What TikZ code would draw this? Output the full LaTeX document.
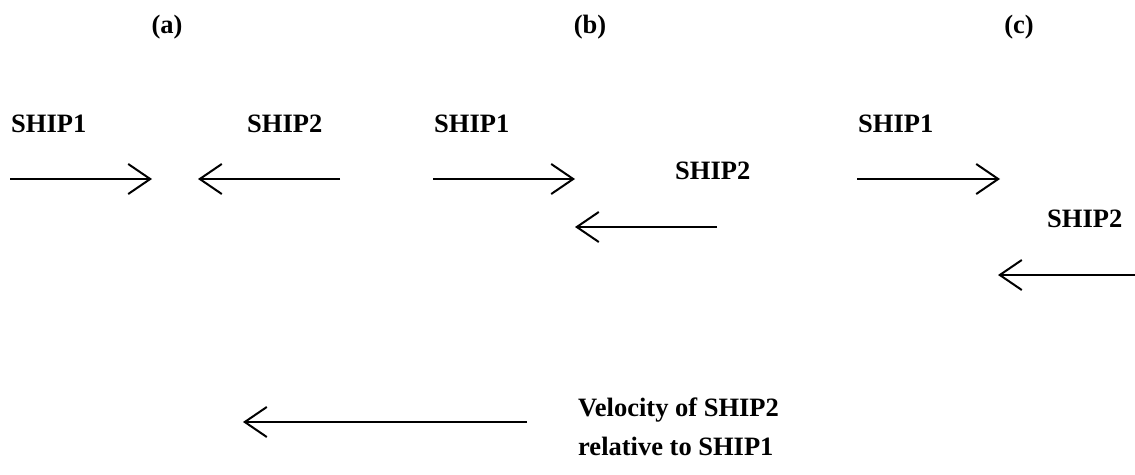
\documentclass[tikz,border=0pt]{standalone}
\usepackage{fontspec}
\setmainfont{Liberation Serif}
\usetikzlibrary{arrows.meta}

\begin{document}
\begin{tikzpicture}[x=1pt,y=-1pt,
    lbl/.style={inner sep=0pt,anchor=base west,font=\bfseries\fontsize{26.5}{30}\selectfont},
    vec/.style={line width=2pt,-{Straight Barb[length=22pt,width=30pt,line width=2pt]}}]
  \useasboundingbox (0,0) rectangle (1135,474);
  \begin{scope}
    \node[lbl,anchor=base] (capa) at (167,33) {(a)};
    \node[lbl] (shipaone) at (11,132) {SHIP1};
    \node[lbl] (shipatwo) at (247,132) {SHIP2};
    \coordinate (aones) at (10,179);
    \coordinate (aonee) at (152,179);
    \coordinate (atwos) at (340,179);
    \coordinate (atwoe) at (198,179);
    \draw[vec] (aones) -- (aonee);
    \draw[vec] (atwos) -- (atwoe);
  \end{scope}
  \begin{scope}[shift={(423,0)}]
    \node[lbl,anchor=base] (capb) at (167,33) {(b)};
    \node[lbl] (shipbone) at (11,132) {SHIP1};
    \node[lbl] (shipbtwo) at (252,179) {SHIP2};
    \coordinate (bones) at (10,179);
    \coordinate (bonee) at (152,179);
    \coordinate (btwos) at (294,227);
    \coordinate (btwoe) at (152,227);
    \draw[vec] (bones) -- (bonee);
    \draw[vec] (btwos) -- (btwoe);
  \end{scope}
  \begin{scope}[shift={(847,0)}]
    \node[lbl,anchor=base] (capc) at (172,33) {(c)};
    \node[lbl] (shipcone) at (11,132) {SHIP1};
    \node[lbl] (shipctwo) at (200,227) {SHIP2};
    \coordinate (cones) at (10,179);
    \coordinate (conee) at (153,179);
    \coordinate (ctwos) at (288,275);
    \coordinate (ctwoe) at (151,275);
    \draw[vec] (cones) -- (conee);
    \draw[vec] (ctwos) -- (ctwoe);
  \end{scope}
  % relative velocity
  \coordinate (rels) at (527,422);
  \coordinate (rele) at (243,422);
  \draw[vec] (rels) -- (rele);
  \node[lbl] (relone) at (578,416) {Velocity of SHIP2};
  \node[lbl] (reltwo) at (578,455) {relative to SHIP1};
\end{tikzpicture}
\end{document}
